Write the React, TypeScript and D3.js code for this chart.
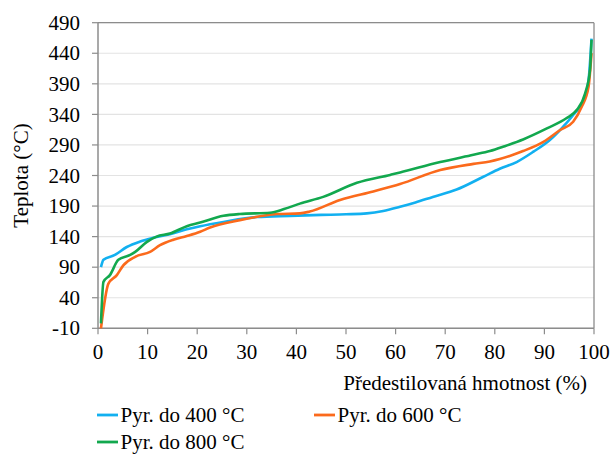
import React from "react";
import * as d3 from "d3";

const xTicks = [0, 10, 20, 30, 40, 50, 60, 70, 80, 90, 100];
const yTicks = [-10, 40, 90, 140, 190, 240, 290, 340, 390, 440, 490];

const seriesNames = ["Pyr. do 400 °C", "Pyr. do 600 °C", "Pyr. do 800 °C"];
const seriesColors = ["#12b0f0", "#fb6a1c", "#12a84e"];

const pyr400: [number, number][] = [
  [0.6, 90], [1.1, 102], [3.4, 110], [5.8, 123], [8.5, 132], [11.1, 138], [14.5, 144],
  [17.9, 152], [20.6, 157], [25.3, 164], [32, 172], [38.7, 174], [45, 175.5], [50, 176.5],
  [54.2, 178], [57.5, 182], [60.9, 189], [64, 196], [67.5, 205], [72.3, 217], [77.7, 238],
  [81, 251], [84.4, 262], [87.8, 279], [91.1, 298], [93.8, 320], [95.8, 339], [97.9, 364],
  [98.9, 396], [99.5, 464],
];

const pyr600: [number, number][] = [
  [0.6, -10], [2.1, 63], [3.8, 77], [5.1, 93], [7.5, 107], [10.5, 115], [12.5, 126],
  [15.2, 135], [17.9, 141], [20.6, 148], [22.6, 155], [28.6, 167], [33.3, 174], [36, 177],
  [40.7, 178], [42.7, 181], [48.8, 200], [55.5, 214], [60.9, 226], [69, 249], [75.7, 259],
  [79, 263], [81, 267], [85.7, 280], [89.8, 295], [93.1, 314], [95.8, 328], [97.5, 352],
  [98.9, 385], [99.5, 440],
];

const pyr800: [number, number][] = [
  [0.6, -2], [1.1, 66], [2.4, 77], [4.1, 102], [6.5, 110], [7.5, 115], [9.8, 131],
  [11.8, 140], [14.5, 145], [17.9, 157], [20.6, 163], [25.3, 174], [28.6, 177], [34.7, 179],
  [37.5, 185], [40.7, 194], [45.4, 205], [52.2, 228], [58.9, 241], [60.9, 245], [69, 262],
  [75.7, 274], [79, 280], [82, 288], [85.7, 299], [90.5, 317], [94.5, 334], [96.5, 347],
  [98.2, 374], [99.2, 413], [99.5, 462],
];

const allSeries = [pyr400, pyr600, pyr800];

export default function App() {
  const W = 611, H = 454;
  const left = 98, right = 594, top = 22.7, bottom = 328.3;
  const x = d3.scaleLinear().domain([0, 100]).range([left, right]);
  const y = d3.scaleLinear().domain([-10, 490]).range([bottom, top]);
  const line = d3
    .line<[number, number]>()
    .x((d) => x(d[0]))
    .y((d) => y(d[1]))
    .curve(d3.curveMonotoneX);
  const font = '"Liberation Serif", "DejaVu Serif", Tinos, "Times New Roman", serif';
  const axisColor = "#8c8c8c";
  const fs = 21;

  const legend = [
    { i: 0, lx: 97, ly: 415 },
    { i: 1, lx: 314, ly: 415 },
    { i: 2, lx: 97, ly: 442 },
  ];

  return (
    <div style={{ position: "fixed", left: 0, top: 0 }}>
      <svg width={W} height={H} style={{ display: "block", background: "#fff", fontFamily: font }}>
        {yTicks.map((t) => (
          <line key={"g" + t} x1={left} x2={right} y1={y(t)} y2={y(t)} stroke="#e3e3e3" strokeWidth={1.2} />
        ))}
        <line x1={left} x2={right} y1={top} y2={top} stroke={axisColor} strokeWidth={1.3} />
        <line x1={right} x2={right} y1={top} y2={bottom} stroke={axisColor} strokeWidth={1.3} />
        <line x1={left} x2={right} y1={bottom} y2={bottom} stroke={axisColor} strokeWidth={1.5} />
        <line x1={left} x2={left} y1={top} y2={bottom} stroke={axisColor} strokeWidth={1.5} />
        {yTicks.map((t) => (
          <g key={"y" + t}>
            <line x1={left - 6} x2={left} y1={y(t)} y2={y(t)} stroke={axisColor} strokeWidth={1.2} />
            <text x={left - 18} y={y(t)} dy="0.34em" textAnchor="end" fontSize={fs} fill="#000" style={{ fontFamily: font }}>
              {t}
            </text>
          </g>
        ))}
        {xTicks.map((t) => (
          <g key={"x" + t}>
            <line x1={x(t)} x2={x(t)} y1={bottom} y2={bottom + 6} stroke={axisColor} strokeWidth={1.2} />
            <text x={x(t)} y={bottom + 31} textAnchor="middle" fontSize={fs} fill="#000" style={{ fontFamily: font }}>
              {t}
            </text>
          </g>
        ))}
        {allSeries.map((s, i) => (
          <path key={"s" + i} d={line(s) || ""} fill="none" stroke={seriesColors[i]} strokeWidth={2.6} strokeLinejoin="round" />
        ))}
        <text x={587} y={390} textAnchor="end" fontSize={fs} fill="#000" style={{ fontFamily: font }}>
          Předestilovaná hmotnost (%)
        </text>
        <text transform={`translate(28,${(top + bottom) / 2}) rotate(-90)`} textAnchor="middle" fontSize={fs} fill="#000" style={{ fontFamily: font }}>
          Teplota (°C)
        </text>
        {legend.map((l) => (
          <g key={"l" + l.i}>
            <line x1={l.lx} x2={l.lx + 21} y1={l.ly} y2={l.ly} stroke={seriesColors[l.i]} strokeWidth={2.8} />
            <text x={l.lx + 23.5} y={l.ly + 6.5} fontSize={fs} fill="#000" style={{ fontFamily: font }}>
              {seriesNames[l.i]}
            </text>
          </g>
        ))}
      </svg>
    </div>
  );
}
